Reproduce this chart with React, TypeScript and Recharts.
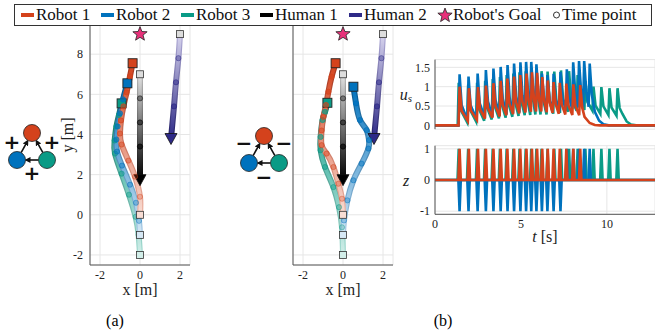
import React from "react";
import {
  ComposedChart,
  LineChart,
  Line,
  XAxis,
  YAxis,
  CartesianGrid,
  Scatter,
} from "recharts";

const FONT = '"Liberation Serif", "DejaVu Serif", serif';

// ---------- trajectories, [x, y] in metres ----------
// (a) all edges "+"
const robot1A = [[0, 0], [0, 0.9], [-0.25, 1.9], [-0.58, 2.7], [-0.92, 3.5], [-1.0, 4.05], [-0.95, 4.7], [-0.83, 5.4], [-0.67, 6.1], [-0.5, 6.9], [-0.37, 7.55]];
const robot2A = [[0, -1], [-0.05, -0.3], [-0.2, 0.6], [-0.5, 1.5], [-0.9, 2.45], [-1.15, 3.15], [-1.18, 3.75], [-1.12, 4.4], [-1.0, 5.05], [-0.85, 5.75], [-0.63, 6.55]];
const robot3A = [[0, -2], [-0.07, -1.0], [-0.22, -0.1], [-0.55, 1.0], [-0.92, 2.05], [-1.25, 3.05], [-1.27, 3.7], [-1.18, 4.4], [-1.05, 4.97], [-0.92, 5.55]];
// (b) all edges "-"
const robot1B = [[0, 0], [-0.05, 0.8], [-0.23, 1.55], [-0.48, 2.38], [-0.82, 3.05], [-1.07, 3.47], [-1.07, 4.2], [-0.98, 4.88], [-0.85, 5.47], [-0.73, 6.13], [-0.57, 6.88], [-0.37, 7.55]];
const robot2B = [[0, -1], [0.05, -0.28], [0.22, 0.72], [0.52, 1.72], [0.93, 2.55], [1.27, 3.3], [1.3, 3.72], [1.18, 4.22], [0.85, 4.72], [0.65, 5.55], [0.52, 6.38]];
const robot3B = [[0, -2], [-0.05, -0.62], [-0.2, 0.38], [-0.48, 1.38], [-0.9, 2.38], [-1.12, 3.22], [-1.12, 3.88], [-1.02, 4.72], [-0.9, 5.13], [-0.78, 5.58]];
const human1 = [[0, 7], [0, 5.8], [0, 4.6], [0, 3.4], [0, 1.75]];
const human2 = [[2, 9], [1.92, 7.8], [1.8, 6.6], [1.7, 5.4], [1.55, 3.8]];
const goal = [[0, 9]];

const XY_X_TICKS = [-2, 0, 2];
const XY_Y_TICKS = [-2, 0, 2, 4, 6, 8];

// ---------- spiking signals ----------
const spikeT1 = [1.43, 1.97, 2.5, 2.96, 3.4, 3.82, 4.21, 4.6, 4.96, 5.32, 5.64, 5.94, 6.24, 6.56, 6.9, 7.26, 7.64, 8.05, 8.45];
const peakU1 = [1.0, 0.96, 0.99, 1.03, 1.09, 1.15, 1.21, 1.26, 1.3, 1.34, 1.37, 1.36, 1.25, 1.16, 1.12, 1.1, 1.08, 1.06, 1.04];
const kneeU1 = [0.38, 0.38, 0.42, 0.45, 0.5, 0.53, 0.57, 0.6, 0.62, 0.65, 0.67, 0.66, 0.62, 0.58, 0.55, 0.53, 0.52, 0.5, 0.45];
const troughU1 = [0.11, 0.14, 0.17, 0.2, 0.23, 0.26, 0.29, 0.31, 0.33, 0.35, 0.36, 0.36, 0.34, 0.32, 0.3, 0.28, 0.27, 0.26];
const tailU1 = [[8.7, 0.22], [9.0, 0.06], [9.3, 0.01], [9.6, 0]];
const peakZ1 = [1, 1, 1, 1, 1, 1, 1, 1, 1, 1, 1, 1, 1, 1, 1, 1, 1, 1, 1];

const spikeT2 = [1.43, 1.95, 2.48, 2.96, 3.4, 3.82, 4.22, 4.6, 4.97, 5.3, 5.6, 5.9, 6.22, 6.54, 6.9, 7.3, 7.67, 8.04, 8.38, 8.68, 9.0];
const peakU2 = [1.32, 1.26, 1.34, 1.43, 1.47, 1.51, 1.56, 1.6, 1.63, 1.64, 1.64, 1.58, 1.34, 1.3, 1.33, 1.38, 1.45, 1.63, 1.66, 1.66, 1.6];
const kneeU2 = [0.52, 0.52, 0.57, 0.62, 0.65, 0.69, 0.72, 0.75, 0.77, 0.79, 0.8, 0.78, 0.68, 0.66, 0.68, 0.71, 0.76, 0.85, 0.87, 0.87, 0.8];
const troughU2 = [0.13, 0.16, 0.19, 0.22, 0.25, 0.28, 0.31, 0.33, 0.35, 0.37, 0.38, 0.38, 0.36, 0.35, 0.36, 0.38, 0.42, 0.46, 0.48, 0.48];
const tailU2 = [[9.3, 0.35], [9.55, 0.12], [9.8, 0.03], [10.1, 0]];
const peakZ2 = [-1, -1, -1, -1, -1, -1, -1, -1, -1, -1, -1, -1, -1, -1, -1, -1, 1, 1, 1, 1, 1];

const spikeT3 = [1.38, 1.93, 2.45, 2.92, 3.36, 3.78, 4.17, 4.56, 4.92, 5.28, 5.6, 5.9, 6.2, 6.55, 6.94, 7.33, 7.8, 8.3, 8.75, 9.22, 9.68, 10.15, 10.62];
const peakU3 = [1.1, 1.05, 1.1, 1.15, 1.2, 1.25, 1.3, 1.34, 1.37, 1.4, 1.42, 1.42, 1.4, 1.39, 1.39, 1.42, 1.4, 1.3, 1.15, 1.0, 0.99, 0.96, 0.96];
const kneeU3 = [0.39, 0.39, 0.41, 0.45, 0.49, 0.52, 0.54, 0.57, 0.59, 0.61, 0.62, 0.62, 0.62, 0.63, 0.64, 0.67, 0.69, 0.67, 0.61, 0.51, 0.49, 0.46, 0.45];
const troughU3 = [0.08, 0.1, 0.12, 0.15, 0.18, 0.2, 0.22, 0.24, 0.26, 0.27, 0.28, 0.28, 0.28, 0.3, 0.32, 0.35, 0.38, 0.4, 0.38, 0.3, 0.27, 0.25];
const tailU3 = [[10.9, 0.3], [11.15, 0.1], [11.4, 0.02], [11.7, 0]];
const peakZ3 = [1, 1, 1, 1, 1, 1, 1, 1, 1, 1, 1, 1, 1, 1, 1, 1, 1, 1, 1, 1, 1, 1, 1];

const T_TICKS = [0, 5, 10];
const US_TICKS = [0, 0.5, 1, 1.5];
const Z_TICKS = [-1, 0, 1];

const LEGEND_LABELS = ["Robot 1", "Robot 2", "Robot 3", "Human 1", "Human 2", "Robot's Goal", "Time point"];

// ---------- styles ----------
const ROBOT_COLOR = ["#D4421C", "#0072BD", "#0A9B86"];
const ROBOT_DARK = ["#A83218", "#00558E", "#07715F"];
const ROBOT_PALE = ["#F8DDD4", "#D6E8F5", "#D2EEE9"];
const ROBOT_EDGE_PALE = ["#EDB5A5", "#A9CBE6", "#A6DDD3"];
const HUMAN_COLOR = ["#000000", "#2E2A87"];
const HUMAN_DARK = ["#000000", "#1E1A66"];
const HUMAN_PALE = ["#E4E4E4", "#D8D5EE"];
const HUMAN_EDGE_PALE = ["#BDBDBD", "#B5B0DA"];
const STAR_COLOR = "#E8317A";
const AXIS = "#555";
const GRID = "#e6e6e6";
const TICK = { fontSize: 12, fill: "#222", fontFamily: FONT };

const T_DOMAIN: [number, number] = [0, 12.8];
const XY_X_DOMAIN: [number, number] = [-2.5, 2.5];
const XY_Y_DOMAIN: [number, number] = [-2.5, 10.45];
const TRAJ_H = 310;
const TRAJ_TOP = 5;
const TRAJ_BOTTOM = 15;
const TRAJ_XAXIS_H = 30;

const toPts = (a: number[][]) => a.map(([x, y]) => ({ x, y }));

function usSeries(times: number[], peaks: number[], knees: number[], troughs: number[], tail: number[][]) {
  const out = [{ t: 0, v: 0 }];
  times.forEach((t, i) => {
    out.push({ t: t - 0.06, v: i === 0 ? 0 : troughs[i - 1] });
    out.push({ t, v: peaks[i] });
    out.push({ t: t + 0.12, v: knees[i] });
  });
  tail.forEach(([t, v]) => out.push({ t, v }));
  out.push({ t: T_DOMAIN[1], v: 0 });
  return out;
}

function zSeries(times: number[], peaks: number[]) {
  const out = [{ t: 0, v: 0 }];
  times.forEach((t, i) => {
    out.push({ t: t - 0.07, v: 0 }, { t, v: peaks[i] }, { t: t + 0.07, v: 0 });
  });
  out.push({ t: T_DOMAIN[1], v: 0 });
  return out;
}

const US = [
  usSeries(spikeT1, peakU1, kneeU1, troughU1, tailU1),
  usSeries(spikeT2, peakU2, kneeU2, troughU2, tailU2),
  usSeries(spikeT3, peakU3, kneeU3, troughU3, tailU3),
];
const ZS = [zSeries(spikeT1, peakZ1), zSeries(spikeT2, peakZ2), zSeries(spikeT3, peakZ3)];

// gradient position along a path (user space of the chart svg)
function yPx(v: number) {
  const plotH = TRAJ_H - TRAJ_TOP - TRAJ_BOTTOM - TRAJ_XAXIS_H;
  return TRAJ_TOP + ((XY_Y_DOMAIN[1] - v) / (XY_Y_DOMAIN[1] - XY_Y_DOMAIN[0])) * plotH;
}

function starPoints(cx: number, cy: number, R: number, r: number) {
  const pts: string[] = [];
  for (let k = 0; k < 10; k++) {
    const a = -Math.PI / 2 + (k * Math.PI) / 5;
    const rad = k % 2 === 0 ? R : r;
    pts.push(`${cx + rad * Math.cos(a)},${cy + rad * Math.sin(a)}`);
  }
  return pts.join(" ");
}

const StarShape = (props: any) => (
  <polygon points={starPoints(props.cx, props.cy, 7.5, 3.2)} fill={STAR_COLOR} stroke="#222" strokeWidth={0.8} />
);

const trajDot = (n: number, color: string, startFill: string, end: "square" | "tri") => (props: any) => {
  const { cx, cy, index } = props;
  if (cx == null || cy == null) return <g key={index} />;
  if (index === 0)
    return <rect key={index} x={cx - 3.5} y={cy - 3.5} width={7} height={7} fill={startFill} stroke="#333" strokeWidth={0.8} />;
  if (index === n - 1) {
    if (end === "tri")
      return <path key={index} d={`M${cx - 6},${cy - 5} L${cx + 6},${cy - 5} L${cx},${cy + 6} Z`} fill={color} stroke="#111" strokeWidth={0.8} />;
    return <rect key={index} x={cx - 4.5} y={cy - 4.5} width={9} height={9} fill={color} stroke="#222" strokeWidth={0.9} />;
  }
  const f = index / (n - 1);
  return (
    <circle key={index} cx={cx} cy={cy} r={2.6} fill={color} fillOpacity={0.2 + 0.6 * f} stroke={color} strokeOpacity={0.45 + 0.5 * f} strokeWidth={0.8} />
  );
};

function TrajChart({ id, robots, width, left, showYTicks }: { id: string; robots: number[][][]; width: number; left: number; showYTicks: boolean }) {
  const series = [
    { data: toPts(human1), color: HUMAN_COLOR[0], dark: HUMAN_DARK[0], pale: HUMAN_PALE[0], edge: HUMAN_EDGE_PALE[0], start: "#dddddd", end: "tri" as const },
    { data: toPts(human2), color: HUMAN_COLOR[1], dark: HUMAN_DARK[1], pale: HUMAN_PALE[1], edge: HUMAN_EDGE_PALE[1], start: "#dddddd", end: "tri" as const },
    ...robots
      .map((r, i) => ({ data: toPts(r), color: ROBOT_COLOR[i], dark: ROBOT_DARK[i], pale: ROBOT_PALE[i], edge: ROBOT_EDGE_PALE[i], start: ROBOT_PALE[i], end: "square" as const }))
      .reverse(),
  ];
  return (
    <ComposedChart width={width} height={TRAJ_H} margin={{ top: TRAJ_TOP, right: 10, bottom: TRAJ_BOTTOM, left }}>
      <defs>
        {series.map((s, i) => {
          const y1 = yPx(s.data[0].y);
          const y2 = yPx(s.data[s.data.length - 1].y);
          return (
            <React.Fragment key={i}>
              <linearGradient id={`${id}-o${i}`} gradientUnits="userSpaceOnUse" x1={0} x2={0} y1={y1} y2={y2}>
                <stop offset="0" stopColor={s.edge} />
                <stop offset="1" stopColor={s.dark} />
              </linearGradient>
              <linearGradient id={`${id}-f${i}`} gradientUnits="userSpaceOnUse" x1={0} x2={0} y1={y1} y2={y2}>
                <stop offset="0" stopColor={s.pale} />
                <stop offset="1" stopColor={s.color} />
              </linearGradient>
            </React.Fragment>
          );
        })}
      </defs>
      <CartesianGrid stroke={GRID} />
      <XAxis
        type="number"
        dataKey="x"
        domain={XY_X_DOMAIN}
        ticks={XY_X_TICKS}
        interval={0}
        allowDataOverflow
        tickLine={false}
        tickSize={3}
        tickMargin={2}
        height={TRAJ_XAXIS_H}
        stroke={AXIS}
        tick={TICK}
        label={(p: any) => (
          <text x={p.viewBox.x + p.viewBox.width / 2} y={p.viewBox.y + 30} textAnchor="middle" fontSize={16} fontFamily={FONT} fill="#222">
            x [m]
          </text>
        )}
      />
      <YAxis
        type="number"
        dataKey="y"
        domain={XY_Y_DOMAIN}
        ticks={XY_Y_TICKS}
        interval={0}
        allowDataOverflow
        tickLine={false}
        tickSize={3}
        tickMargin={4}
        width={30}
        stroke={AXIS}
        tick={TICK}
        tickFormatter={(v: number) => (showYTicks ? String(v) : "")}
        label={
          showYTicks
            ? (p: any) => {
                const x = p.viewBox.x + 13;
                const y = p.viewBox.y + p.viewBox.height / 2;
                return (
                  <text x={x} y={y} transform={`rotate(-90, ${x}, ${y})`} textAnchor="middle" fontSize={16} fontFamily={FONT} fill="#222">
                    y [m]
                  </text>
                );
              }
            : undefined
        }
      />
      {series.map((s, i) => [
        <Line
          key={`o${i}`}
          data={s.data}
          dataKey="y"
          type="natural"
          stroke={`url(#${id}-o${i})`}
          strokeWidth={6}
          dot={false}
          activeDot={false}
          isAnimationActive={false}
        />,
        <Line
          key={`f${i}`}
          data={s.data}
          dataKey="y"
          type="natural"
          stroke={`url(#${id}-f${i})`}
          strokeWidth={3.6}
          dot={trajDot(s.data.length, s.color, s.start, s.end)}
          activeDot={false}
          isAnimationActive={false}
        />,
      ])}
      <Scatter data={toPts(goal)} dataKey="y" shape={StarShape} isAnimationActive={false} />
    </ComposedChart>
  );
}

function TimeChart({ data, height, top, bottom, xHeight, yDomain, yTicks, label, showX }: any) {
  return (
    <LineChart width={260} height={height} margin={{ top, right: 0, bottom, left: 0 }}>
      <CartesianGrid stroke={GRID} />
      <XAxis
        type="number"
        dataKey="t"
        domain={T_DOMAIN}
        ticks={T_TICKS}
        interval={0}
        allowDataOverflow
        tickLine={false}
        tickSize={3}
        tickMargin={2}
        height={xHeight}
        stroke={AXIS}
        tick={showX ? TICK : false}
        label={
          showX
            ? (p: any) => (
                <text x={p.viewBox.x + p.viewBox.width / 2} y={p.viewBox.y + 28} textAnchor="middle" fontSize={16} fontFamily={FONT} fill="#222">
                  <tspan fontStyle="italic">t</tspan> [s]
                </text>
              )
            : undefined
        }
      />
      <XAxis xAxisId="top" orientation="top" type="number" dataKey="t" domain={T_DOMAIN} allowDataOverflow tick={false} tickLine={false} height={0} stroke={AXIS} />
      <YAxis
        type="number"
        domain={yDomain}
        ticks={yTicks}
        interval={0}
        allowDataOverflow
        tickLine={false}
        tickSize={3}
        tickMargin={2}
        width={40}
        stroke={AXIS}
        tick={TICK}
        label={(p: any) => label(p.viewBox.x + 11, p.viewBox.y + p.viewBox.height / 2)}
      />
      {[2, 1, 0].map((i) => (
        <Line
          key={i}
          data={data[i]}
          dataKey="v"
          type="linear"
          stroke={ROBOT_COLOR[i]}
          strokeWidth={2.6}
          dot={false}
          activeDot={false}
          isAnimationActive={false}
        />
      ))}
    </LineChart>
  );
}

function Formation({ cx, cy, sign, signPos }: { cx: number; cy: number; sign: string; signPos: number[][] }) {
  const r = 8.5;
  const nodes = [
    [cx, cy, ROBOT_COLOR[0]],
    [cx - 15, cy + 27, ROBOT_COLOR[1]],
    [cx + 15, cy + 27, ROBOT_COLOR[2]],
  ] as [number, number, string][];
  const edges = [
    [1, 0],
    [2, 0],
    [2, 1],
  ];
  return (
    <g>
      {edges.map(([a, b], k) => {
        const [x1, y1] = nodes[a];
        const [x2, y2] = nodes[b];
        const d = Math.hypot(x2 - x1, y2 - y1);
        const ux = (x2 - x1) / d;
        const uy = (y2 - y1) / d;
        return (
          <line
            key={k}
            x1={x1 + ux * r}
            y1={y1 + uy * r}
            x2={x2 - ux * (r + 1)}
            y2={y2 - uy * (r + 1)}
            stroke="#111"
            strokeWidth={1.6}
            markerEnd="url(#arrowhead)"
          />
        );
      })}
      {nodes.map(([x, y, c], k) => (
        <circle key={k} cx={x} cy={y} r={r} fill={c} stroke="#222" strokeWidth={0.8} />
      ))}
      {signPos.map(([dx, dy], k) => (
        <text key={k} x={cx + dx} y={cy + dy} textAnchor="middle" dominantBaseline="central" fontSize={20} fontWeight="bold" fontFamily="DejaVu Sans" fill="#111">
          {sign}
        </text>
      ))}
    </g>
  );
}

function Diagrams() {
  return (
    <svg width={655} height={333} style={{ position: "absolute", left: 0, top: 0, pointerEvents: "none" }}>
      <defs>
        <marker id="arrowhead" markerWidth={6} markerHeight={6} refX={4} refY={3} orient="auto" markerUnits="userSpaceOnUse">
          <path d="M0,0 L6,3 L0,6 Z" fill="#111" />
        </marker>
      </defs>
      <Formation cx={32} cy={133} sign="+" signPos={[[-20, 9], [20, 9], [0, 40]]} />
      <Formation cx={264} cy={136} sign="−" signPos={[[-20, 7], [20, 7], [0, 41]]} />
    </svg>
  );
}

function Legend() {
  const xs = [21, 101, 181, 260, 349, 437, 552];
  const colors = [ROBOT_COLOR[0], ROBOT_COLOR[1], ROBOT_COLOR[2], HUMAN_COLOR[0], HUMAN_COLOR[1]];
  return (
    <div
      style={{
        position: "absolute",
        left: 14,
        top: 4,
        width: 638,
        height: 22,
        boxSizing: "border-box",
        border: "1px solid #333",
        background: "#fff",
      }}
    >
      {LEGEND_LABELS.map((lab, i) => (
        <div key={lab} style={{ position: "absolute", left: xs[i] - 15, top: 0, height: 20, display: "flex", alignItems: "center", whiteSpace: "nowrap" }}>
          {i < 5 && <span style={{ display: "inline-block", width: 13, height: 4, background: colors[i], marginRight: 2 }} />}
          {i === 5 && (
            <svg width={16} height={16}>
              <polygon points={starPoints(8, 8.5, 7.5, 3.2)} fill={STAR_COLOR} stroke="#222" strokeWidth={0.8} />
            </svg>
          )}
          {i === 6 && (
            <svg width={9} height={10} style={{ marginRight: 1 }}>
              <circle cx={4.5} cy={5} r={3} fill="none" stroke="#333" strokeWidth={1} />
            </svg>
          )}
          <span style={{ fontSize: 17, lineHeight: "20px", color: "#111", fontFamily: FONT }}>{lab}</span>
        </div>
      ))}
    </div>
  );
}

export default function App() {
  return (
    <div
      style={{
        position: "absolute",
        left: 0,
        top: 0,
        width: 655,
        height: 333,
        background: "#fff",
        fontFamily: FONT,
        overflow: "hidden",
      }}
    >
      <div style={{ position: "absolute", left: 40, top: 0 }}>
        <TrajChart id="a" robots={[robot1A, robot2A, robot3A]} width={160} left={20} showYTicks />
      </div>
      <div style={{ position: "absolute", left: 253, top: 0 }}>
        <TrajChart id="b" robots={[robot1B, robot2B, robot3B]} width={150} left={10} showYTicks={false} />
      </div>
      <div style={{ position: "absolute", left: 395, top: 50 }}>
        <TimeChart
          data={US}
          height={90}
          top={9.6}
          bottom={10.8}
          xHeight={0}
          yDomain={[-0.1, 1.7]}
          yTicks={US_TICKS}
          showX={false}
          label={(x: number, y: number) => (
            <text x={x} y={y} textAnchor="middle" dominantBaseline="central" fontSize={16} fontStyle="italic" fontFamily={FONT} fill="#222">
              u<tspan fontSize={11} dy={4}>s</tspan>
            </text>
          )}
        />
      </div>
      <div style={{ position: "absolute", left: 395, top: 135 }}>
        <TimeChart
          data={ZS}
          height={115}
          top={10.7}
          bottom={5.7}
          xHeight={30}
          yDomain={[-1.1, 1.1]}
          yTicks={Z_TICKS}
          showX
          label={(x: number, y: number) => (
            <text x={x} y={y} textAnchor="middle" dominantBaseline="central" fontSize={16} fontStyle="italic" fontFamily={FONT} fill="#222">
              z
            </text>
          )}
        />
      </div>
      <Diagrams />
      <Legend />
      <div style={{ position: "absolute", left: 100, top: 312, width: 30, textAlign: "center", fontSize: 16 }}>(a)</div>
      <div style={{ position: "absolute", left: 428, top: 312, width: 30, textAlign: "center", fontSize: 16 }}>(b)</div>
    </div>
  );
}
